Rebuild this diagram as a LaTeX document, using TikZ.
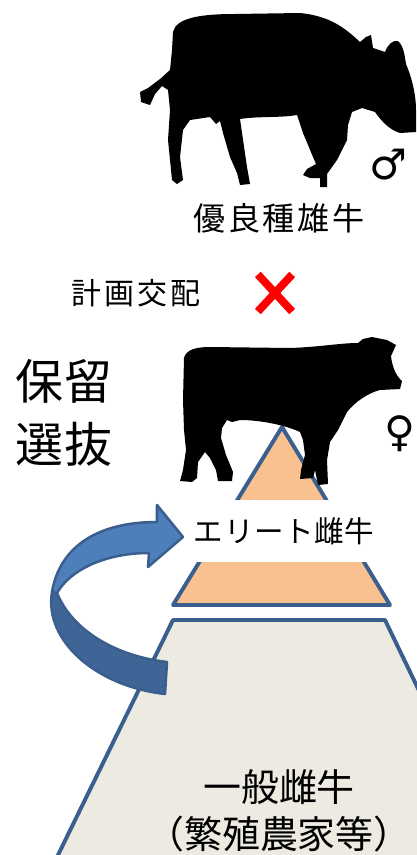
\documentclass[tikz,border=0pt]{standalone}
\usepackage{fontspec}
\newfontfamily\jpfont{Noto Sans CJK JP}
\newfontfamily\symfont{DejaVu Sans}
\usetikzlibrary{positioning}
\definecolor{tierEdge}{HTML}{3A5F8E}
\definecolor{tierTop}{HTML}{F9C18F}
\definecolor{tierBase}{HTML}{EDEBE1}
\definecolor{arrowLight}{HTML}{4E7FBB}
\definecolor{arrowDark}{HTML}{3F6597}
\definecolor{crossRed}{HTML}{FF0000}

\begin{document}
\begin{tikzpicture}[
  x=0.025cm, y=-0.025cm,
  every node/.style={font=\jpfont, inner sep=0pt, align=center},
  tier/.style={draw=tierEdge, line width=2.8pt, line join=round},
  silhouette/.style={fill=black},
  sexmark/.style={font=\symfont\fontsize{30}{36}\selectfont},
  band/.style={fill=white, minimum width=135pt, minimum height=44pt},
  redx/.style={draw=crossRed, line width=5.6pt},
  bigarrow/.style={draw=tierEdge, line width=1.8pt, line join=round}
]
 \useasboundingbox (0,0) rectangle (416,855);

 % Base tier (cut off at the bottom)
 \fill[tierBase] (173,620) -- (385,620) -- (520,900) -- (36,900) -- cycle;
 \draw[tier] (36,900) -- (173,620) -- (385,620) -- (520,900);

 % Upper tier
 \draw[tier, fill=tierTop] (282,427) -- (390,605) -- (173,605) -- cycle;

 % Bull
 \fill[silhouette] (173,32) .. controls (176,18) and (200,14) .. (235,14)
  -- (300,13) .. controls (330,16) and (345,28) .. (360,42)
  -- (366,37) -- (371,35) -- (373,48)
  -- (385,52) .. controls (388,44) and (393,40) .. (398,41)
  .. controls (404,46) and (405,58) .. (406,64)
  .. controls (412,78) and (416,95) .. (416,110)
  -- (416,132) -- (400,133)
  .. controls (390,130) and (382,122) .. (375,112)
  -- (362,108) -- (352,112) -- (348,125) -- (347,140)
  -- (337,160) -- (327,174) -- (327,187) -- (320,187) -- (320,178)
  -- (310,178) -- (303,175) -- (307,169) -- (316,164)
  -- (313,157) -- (303,133) -- (297,115)
  .. controls (280,118) and (260,116) .. (240,119)
  -- (247,167) -- (250,184) -- (240,185) -- (237,173)
  -- (230,157) -- (223,133) -- (220,121) -- (216,124) -- (210,117)
  -- (190,120) -- (183,130) -- (180,157) -- (183,180) -- (177,184)
  -- (172,180) -- (168,140) -- (170,110) -- (168,90) -- (162,86)
  -- (155,94) -- (150,105) -- (141,102) -- (140,92) -- (148,88)
  -- (160,79) -- (170,70) -- (172,50) -- cycle;
 \node[sexmark] (male) at (388,165) {♂};
 \node[font=\jpfont\fontsize{22.8}{27}\selectfont\addfontfeatures{LetterSpace=8}]
  (sire) at (279,218) {優良種雄牛};

 % Mating plan
 \node[font=\jpfont\fontsize{21.3}{26}\selectfont\addfontfeatures{LetterSpace=10}]
  (mating) at (136,293) {計画交配};
 \node[minimum width=24pt, minimum height=26pt] (cross) at (275,293) {};
 \draw[redx] (cross.north west) -- (cross.south east);
 \draw[redx] (cross.north east) -- (cross.south west);

 % Retention and selection
 \node[font=\jpfont\fontsize{34.1}{44.8}\selectfont\addfontfeatures{LetterSpace=4}]
  (retain) at (64,413) {保留\\選抜};

 % Cow standing on the upper tier
 \fill[silhouette] (184,358) .. controls (186,350) and (195,347) .. (210,347)
  -- (290,348) .. controls (320,347) and (340,343) .. (358,343)
  -- (363,339) -- (372,337) -- (387,340) -- (396,345) -- (391,356)
  .. controls (392,365) and (395,375) .. (402,381)
  -- (400,389) -- (380,390)
  .. controls (368,393) and (355,402) .. (347,412)
  -- (338,430) -- (330,442) -- (327,460) -- (328,484) -- (318,485)
  -- (315,470) -- (313,478) -- (300,479) -- (301,470) -- (305,455)
  -- (303,440) -- (300,432)
  .. controls (285,425) and (260,420) .. (240,420)
  -- (232,422) -- (227,420) -- (222,428) -- (221,438) -- (226,455)
  -- (233,472) -- (232,481) -- (218,481) -- (216,470) -- (210,458)
  -- (205,452) -- (198,462) -- (197,478) -- (192,482) -- (180,481)
  -- (183,470) -- (186,450) -- (184,430) -- (183,400) -- cycle;
 \node[sexmark] (female) at (400,434) {♀};

 % Tier labels
 \node[band, font=\jpfont\fontsize{21}{25}\selectfont\addfontfeatures{LetterSpace=2}]
  (elite) at (284,531) {エリート雌牛};
 \node[font=\jpfont\fontsize{27}{33.4}\selectfont]
  (general) at (279,811) {一般雌牛\\（繁殖農家等）};

 % Curved arrow from the base tier back up to the elite tier
 \draw[bigarrow, fill=arrowDark] (52,592)
  .. controls (44,640) and (95,686) .. (165,694)
  -- (167,662) .. controls (115,656) and (72,630) .. (57,593) -- cycle;
 \draw[bigarrow, fill=arrowLight] (183,537) -- (157,505) -- (157,522)
  .. controls (100,522) and (60,545) .. (52,592)
  -- (57,593) .. controls (70,570) and (105,553) .. (149,553)
  -- (148,567) -- cycle;
\end{tikzpicture}
\end{document}
